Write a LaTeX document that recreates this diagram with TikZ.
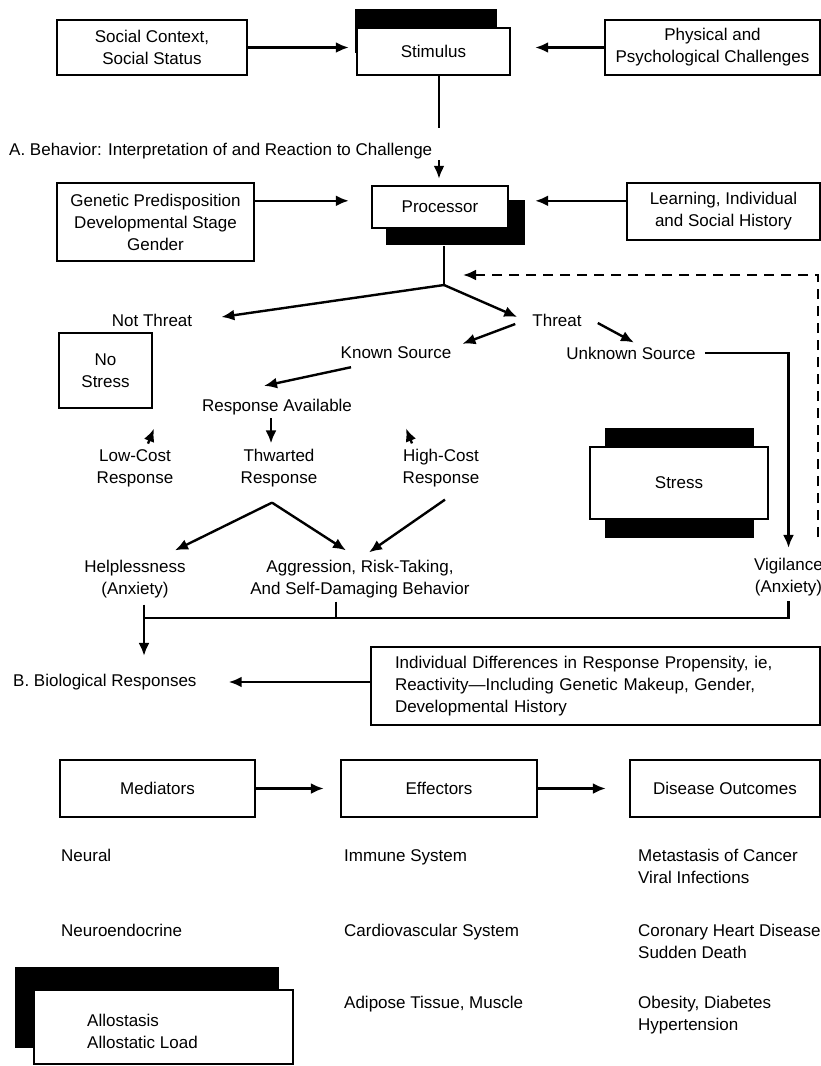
\documentclass[tikz,border=0pt]{standalone}
\usepackage{fontspec}
\setmainfont{Liberation Sans}
\usetikzlibrary{positioning,arrows.meta,calc}

\begin{document}
\begin{tikzpicture}[x=1pt, y=-1pt, font=\fontsize{17}{22}\selectfont, line width=2.4pt,
  >={Latex[length=13pt, width=11pt]},
  box/.style={draw, fill=white, align=center, inner sep=0pt},
  shadow/.style={fill=black, inner sep=0pt},
  lbl/.style={align=center, inner sep=2pt},
  item/.style={align=left, anchor=north west, inner sep=0pt, execute at begin node=\strut},
  arr/.style={->},
  fback/.style={->, dash pattern=on 10pt off 7pt},
]
\useasboundingbox (0,0) rectangle (821,1066);

% ---------------- stimulus row ----------------
\node[box, minimum width=190pt, minimum height=55pt] (social) at (152,47.5) {Social Context,\\Social Status};
\node[shadow, minimum width=142pt, minimum height=44pt] (stimsh) at (426,31) {};
\node[box, minimum width=153pt, minimum height=47pt] (stim) at (433.5,51.5) {Stimulus};
\node[box, minimum width=215pt, minimum height=55pt] (phys) at (712.5,47.5) {Physical and\\Psychological Challenges};
\draw[arr, shorten >=7pt] (social.east) -- (social.east -| stim.west);
\draw[arr, shorten >=24pt] (phys.west) -- (phys.west -| stim.east);
\coordinate (stimend) at (439,128);
\draw ($(stim.south)+(5.5,0)$) -- (stimend);

% ---------------- (A) behavior ----------------
\node[anchor=west, inner sep=0pt] (partA) at (8,151) {A. Behavior: Interpretation of and Reaction to Challenge};
\node[shadow, minimum width=139pt, minimum height=45pt] (procsh) at (455.5,222.5) {};
\node[box, minimum width=136pt, minimum height=42pt] (proc) at (440,207) {Processor};
\node[box, minimum width=197pt, minimum height=78pt] (genetic) at (155.5,222) {Genetic Predisposition\\Developmental Stage\\Gender};
\node[box, minimum width=193pt, minimum height=57pt] (learn) at (723.5,211.5) {Learning, Individual\\and Social History};
\draw[arr, shorten >=6pt] (stimend |- partA.south) -- (stimend |- proc.north);
\draw[arr, shorten >=22pt] ($(genetic.north east)+(0,19)$) -- ($(proc.north west)+(0,16)$);
\draw[arr, shorten >=26pt] ($(learn.north west)+(0,19)$) -- ($(proc.north east)+(0,16)$);
\coordinate (fork) at (444,285);
\draw (fork |- procsh.south) -- (fork);

% appraisal
\node[lbl] (nthreat) at (152,320) {Not Threat};
\node[lbl] (threat) at (557,320) {Threat};
\node[lbl] (known) at (396,353) {Known Source};
\node[lbl] (unknown) at (631,353) {Unknown Source};
\node[box, minimum width=93pt, minimum height=75pt] (nostress) at (105.5,370.5) {No\\Stress};
\draw[arr] (fork) -- ($(nthreat.east)+(26,-3)$);
\draw[arr] (fork) -- ($(threat.west)+(-12,-3)$);
\draw[arr] ($(threat.west)+(-14,4)$) -- ($(known.north east)+(8,0)$);
\draw[arr] ($(threat.east)+(13,3)$) -- ($(unknown.north)+(3,-1)$);

% responses
\node[lbl] (resp) at (277,407) {Response Available};
\node[lbl] (lowc) at (135,468.5) {Low-Cost\\Response};
\node[lbl] (thwart) at (279,468.5) {Thwarted\\Response};
\node[lbl] (highc) at (441,468.5) {High-Cost\\Response};
\draw[arr] ($(known.south)+(-45,5)$) -- ($(resp.north)+(-13,-10)$);
\draw[arr] ($(resp.south)+(-6,0)$) -- ($(thwart.north)+(-8,-3)$);
\draw[arr] ($(lowc.north)+(13,-3)$) -- ($(lowc.north)+(19,-18)$);
\draw[arr] ($(highc.north)+(-29,-3)$) -- ($(highc.north)+(-35,-18)$);

% stress box
\node[shadow, minimum width=149pt, minimum height=110pt] (stresssh) at (679.5,483) {};
\node[box, minimum width=178pt, minimum height=72pt] (stress) at (679,483) {Stress};

% outcomes of behavior
\node[lbl] (helpless) at (135,579.5) {Helplessness\\(Anxiety)};
\node[lbl] (aggress) at (360,579.5) {Aggression, Risk-Taking,\\And Self-Damaging Behavior};
\node[lbl] (vigil) at (788.5,577) {Vigilance\\(Anxiety)};
\coordinate (apex) at ($(thwart.south)+(-7,12)$);
\draw[arr] (apex) -- ($(helpless.north)+(40,-7)$);
\draw[arr] (apex) -- ($(aggress.north)+(-14,-7)$);
\draw[arr] ($(highc.south)+(4,9)$) -- ($(aggress.north)+(9,-5)$);
\draw[arr, shorten >=7pt] ($(unknown.east)+(6,0)$) -| (vigil.north);
% feedback to the processor
\coordinate (fbfoot) at (818,537);
\coordinate (fbtip) at (463,275);
\draw[fback] (fbfoot) |- (fbtip);

% ---------------- (B) biological ----------------
\node[anchor=west, inner sep=0pt] (bio) at (12,682) {B. Biological Responses};
\coordinate (busy) at (0,618);
\draw ($(helpless.south)+(9,3)$) coordinate (hb) -- (hb |- busy) -| ($(vigil.south)+(0,2)$);
\draw ($(aggress.south)+(-24,0)$) coordinate (ab) -- (ab |- busy);
\draw[arr] (hb |- busy) -- ($(hb |- bio.north)+(0,-17)$);
\node[box, minimum width=449pt, minimum height=78pt, text width=401pt, align=left] (indiv) at (595.5,686)
  {Individual Differences in Response Propensity, ie,\\Reactivity---Including Genetic Makeup, Gender,\\Developmental History};
\draw[arr, shorten >=31pt] (indiv.west |- bio.east) -- (bio.east);

\node[box, minimum width=195pt, minimum height=57pt] (med) at (157.5,788.5) {Mediators};
\node[box, minimum width=196pt, minimum height=57pt] (eff) at (439,788.5) {Effectors};
\node[box, minimum width=190pt, minimum height=57pt] (dis) at (725,788.5) {Disease Outcomes};
\draw[arr, shorten >=16pt] (med) -- (eff);
\draw[arr, shorten >=23pt] (eff) -- (dis);

\node[item] (neural) at (60,845) {Neural};
\node[item] (neuroendo) at (60,920) {Neuroendocrine};
\node[item] (immune) at (343,845) {Immune System};
\node[item] (cardio) at (343,920) {Cardiovascular System};
\node[item] (adipose) at (343,992) {Adipose Tissue, Muscle};
\node[item] (cancer) at (637,848) {Metastasis of Cancer\\Viral Infections};
\node[item] (coronary) at (637,923) {Coronary Heart Disease\\Sudden Death};
\node[item] (obesity) at (637,995) {Obesity, Diabetes\\Hypertension};

% allostasis
\node[shadow, minimum width=264pt, minimum height=81pt] (allosh) at (147,1007.5) {};
\node[box, minimum width=259pt, minimum height=74pt] (allo) at (163.5,1027) {};
\node[item] (allotxt) at (86,1013) {Allostasis\\Allostatic Load};
\end{tikzpicture}
\end{document}
